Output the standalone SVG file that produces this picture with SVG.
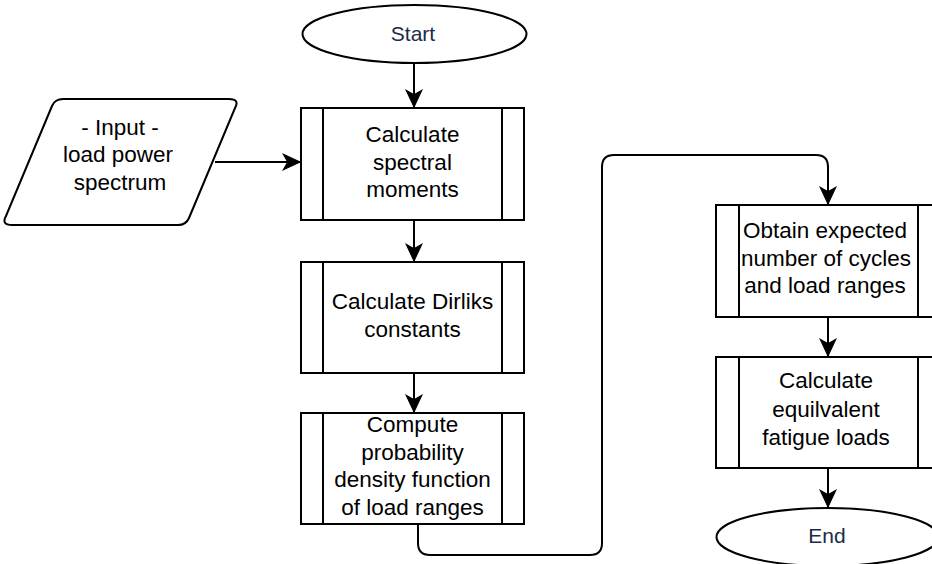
<svg xmlns="http://www.w3.org/2000/svg" width="932" height="564" viewBox="0 0 932 564">
<style>
.shape{fill:#ffffff;stroke:#000000;stroke-width:2}
.bar{fill:none;stroke:#000000;stroke-width:2}
.conn{fill:none;stroke:#000000;stroke-width:2}
.t{font-family:"Liberation Sans",Arial,sans-serif;font-size:22.5px;fill:#000000;text-anchor:middle}
.term{font-family:"Liberation Sans",Arial,sans-serif;font-size:21px;fill:#1a2b45;text-anchor:middle}
</style>
<defs>
<marker id="arrow" markerUnits="userSpaceOnUse" markerWidth="20" markerHeight="20" viewBox="-16 -8 18 16" refX="0" refY="0" orient="auto">
<path d="M0,0 L-15,-7 L-11,0 L-15,7 Z" fill="#000000" stroke="#000000" stroke-width="1"/>
</marker>
</defs>
<g id="connectors">
<line class="conn" x1="414" y1="63" x2="414" y2="107" marker-end="url(#arrow)"/>
<line class="conn" x1="215" y1="162" x2="300" y2="162" marker-end="url(#arrow)"/>
<line class="conn" x1="414" y1="220" x2="414" y2="261" marker-end="url(#arrow)"/>
<line class="conn" x1="414" y1="373" x2="414" y2="412" marker-end="url(#arrow)"/>
<path class="conn" d="M418,524 L418,543 Q418,555 430,555 L590,555 Q602,555 602,543 L602,167 Q602,155 614,155 L816,155 Q828,155 828,167 L828,204" marker-end="url(#arrow)"/>
<line class="conn" x1="828" y1="317" x2="828" y2="356" marker-end="url(#arrow)"/>
<line class="conn" x1="828" y1="468" x2="828" y2="507" marker-end="url(#arrow)"/>
</g>
<g id="start">
<ellipse class="shape" cx="414.5" cy="34" rx="112" ry="29"/>
<text class="term" x="413" y="41">Start</text>
</g>
<g id="input">
<path class="shape" d="M63,99 L229,99 Q240,99 235,108 L189,218 Q186,225 178,225 L12,225 Q1,225 6,216 L52,106 Q55,99 63,99 Z"/>
<text class="t" x="120" y="135">- Input -</text>
<text class="t" x="118" y="162">load power</text>
<text class="t" x="120" y="190">spectrum</text>
</g>
<g id="spectral">
<rect class="shape" x="301" y="108" width="223" height="112"/>
<line class="bar" x1="323" y1="108" x2="323" y2="220"/>
<line class="bar" x1="502" y1="108" x2="502" y2="220"/>
<text class="t" x="412.5" y="142">Calculate</text>
<text class="t" x="412.5" y="170">spectral</text>
<text class="t" x="412.5" y="197">moments</text>
</g>
<g id="dirliks">
<rect class="shape" x="301" y="262" width="223" height="111"/>
<line class="bar" x1="323" y1="262" x2="323" y2="373"/>
<line class="bar" x1="502" y1="262" x2="502" y2="373"/>
<text class="t" x="412.5" y="309">Calculate Dirliks</text>
<text class="t" x="412.5" y="337">constants</text>
</g>
<g id="pdf">
<rect class="shape" x="301" y="413" width="223" height="111"/>
<line class="bar" x1="323" y1="413" x2="323" y2="524"/>
<line class="bar" x1="502" y1="413" x2="502" y2="524"/>
<text class="t" x="412.5" y="432">Compute</text>
<text class="t" x="412.5" y="460">probability</text>
<text class="t" x="412.5" y="487">density function</text>
<text class="t" x="412.5" y="515">of load ranges</text>
</g>
<g id="cycles">
<rect class="shape" x="716" y="205" width="223" height="112"/>
<line class="bar" x1="739" y1="205" x2="739" y2="317"/>
<line class="bar" x1="918" y1="205" x2="918" y2="317"/>
<text class="t" x="825" y="238">Obtain expected</text>
<text class="t" x="826" y="266">number of cycles</text>
<text class="t" x="825" y="293">and load ranges</text>
</g>
<g id="equivalent">
<rect class="shape" x="716" y="357" width="223" height="111"/>
<line class="bar" x1="739" y1="357" x2="739" y2="468"/>
<line class="bar" x1="918" y1="357" x2="918" y2="468"/>
<text class="t" x="826" y="388">Calculate</text>
<text class="t" x="826" y="417">equilvalent</text>
<text class="t" x="826" y="445">fatigue loads</text>
</g>
<g id="end">
<ellipse class="shape" cx="827.5" cy="537" rx="111" ry="29"/>
<text class="term" x="827" y="543">End</text>
</g>
</svg>
